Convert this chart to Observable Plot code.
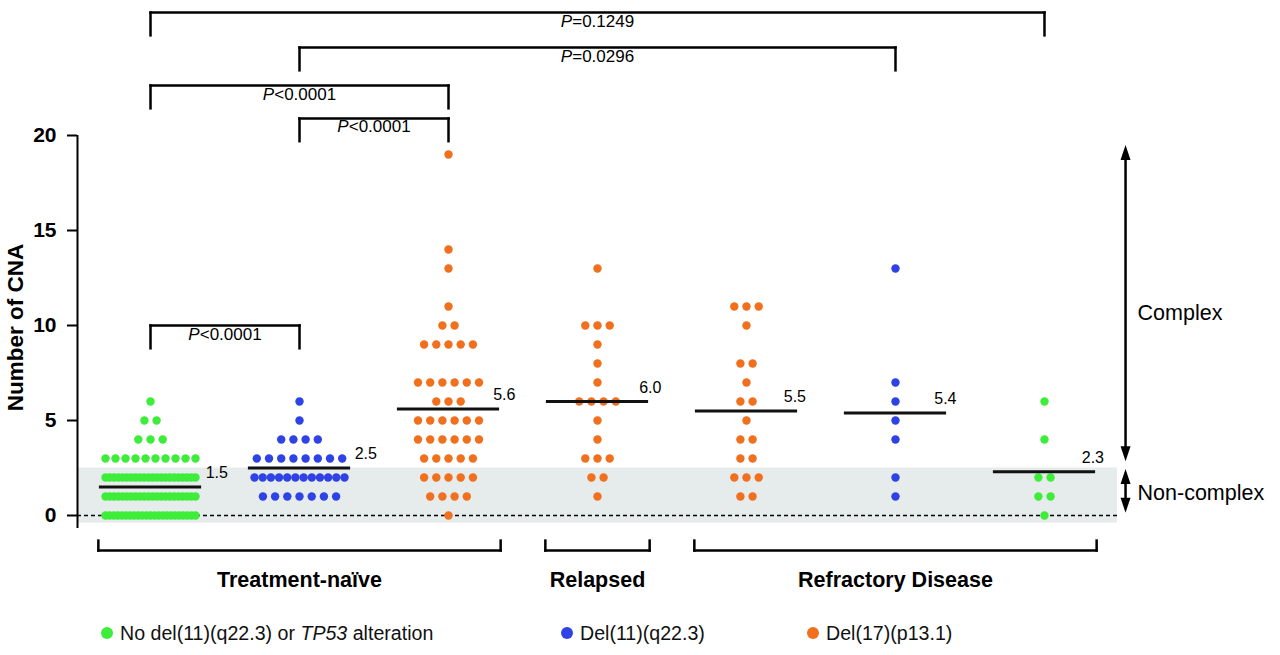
<!DOCTYPE html>
<html><head><meta charset="utf-8">
<script src="https://cdn.jsdelivr.net/npm/d3@7"></script>
<script src="https://cdn.jsdelivr.net/npm/@observablehq/plot@0.6"></script>
<style>
body{margin:0;background:#fff;font-family:"Liberation Sans",Arial,sans-serif;}
#wrap{position:relative;width:1280px;height:655px;overflow:hidden;background:#fff}
#legend{position:absolute;top:619px;left:0;width:1280px;height:28px;font-size:19.6px;color:#111}
.item{position:absolute;top:0;height:28px;display:flex;align-items:center;white-space:nowrap}
.sw{width:12px;height:12px;border-radius:50%;display:inline-block;margin-right:7px}
</style></head><body>
<div id="wrap"><div id="chart"></div><div id="legend"></div></div>
<script>
// ---------- DATA ----------
const statusLabels = ["No del(11)(q22.3) or TP53 alteration", "Del(11)(q22.3)", "Del(17)(p13.1)"];
const statusColors = ["#3ded3a", "#2f42e6", "#f0701e"];
const phases = ["Treatment-naïve", "Relapsed", "Refractory Disease"];
// per group: phase index, status index
const groupPhase = [0, 0, 0, 1, 2, 2, 2];
const groupStatus = [0, 1, 2, 2, 2, 1, 0];
// CNA values and number of patients per value, one pair per group
const naiveNoneCNA = [0, 1, 2, 3, 4, 5, 6];
const naiveNoneN   = [23, 22, 22, 10, 3, 2, 1];
const naiveDel11CNA = [1, 2, 3, 4, 5, 6];
const naiveDel11N   = [7, 12, 8, 4, 1, 1];
const naiveDel17CNA = [0, 1, 2, 3, 4, 5, 6, 7, 9, 10, 11, 13, 14, 19];
const naiveDel17N   = [1, 4, 5, 5, 6, 6, 3, 6, 5, 2, 1, 1, 1, 1];
const relapsedDel17CNA = [1, 2, 3, 4, 5, 6, 7, 8, 9, 10, 13];
const relapsedDel17N   = [1, 2, 3, 1, 1, 4, 1, 1, 1, 3, 1];
const refrDel17CNA = [1, 2, 3, 4, 5, 6, 7, 8, 10, 11];
const refrDel17N   = [2, 3, 2, 2, 1, 2, 1, 2, 1, 3];
const refrDel11CNA = [1, 2, 4, 5, 6, 7, 13];
const refrDel11N   = [1, 1, 1, 1, 1, 1, 1];
const refrNoneCNA = [0, 1, 2, 4, 6];
const refrNoneN   = [1, 2, 2, 1, 1];
const groupMeans = [1.5, 2.5, 5.6, 6.0, 5.5, 5.4, 2.3];
const yTicks = [0, 5, 10, 15, 20];
const complexThreshold = 2.5;
const comparisons = [
  {from: 0, to: 6, label: "P=0.1249"},
  {from: 1, to: 5, label: "P=0.0296"},
  {from: 0, to: 2, label: "P<0.0001"},
  {from: 1, to: 2, label: "P<0.0001"},
  {from: 0, to: 1, label: "P<0.0001"}
];
const zoneLabels = ["Complex", "Non-complex"];

// ---------- LAYOUT ----------
const groupsCNA = [naiveNoneCNA, naiveDel11CNA, naiveDel17CNA, relapsedDel17CNA, refrDel17CNA, refrDel11CNA, refrNoneCNA];
const groupsN = [naiveNoneN, naiveDel11N, naiveDel17N, relapsedDel17N, refrDel17N, refrDel11N, refrNoneN];
const W = 1280, H = 612, ML = 77;
const xDomain = [-0.49, 7.584];
const yDomain = [-5.105, 27.105];
const pxPerX = (W - ML) / (xDomain[1] - xDomain[0]);
const axisX = xDomain[0];
const bandRight = 6.49;
const dotStep = 12.2, maxSpan = 90;
const bracketLevels = [26.47, 24.63, 22.63, 20.9, 10.0];
const legLen = 1.2;
const meanLabelOffset = [0.37, 0.37, 0.3, 0.28, 0.25, 0.26, 0.25];

const points = [];
groupsCNA.forEach((vals, g) => {
  vals.forEach((v, i) => {
    const n = groupsN[g][i];
    const step = n > 1 ? Math.min(dotStep, maxSpan / (n - 1)) : 0;
    for (let k = 0; k < n; k++) {
      points.push({g, v, x: g + ((k - (n - 1) / 2) * step) / pxPerX, status: groupStatus[g]});
    }
  });
});
const meanData = groupMeans.map((m, g) => ({g, m}));

const segs = [];
const pLabels = [];
comparisons.forEach((c, i) => {
  const L = bracketLevels[i];
  segs.push({x1: c.from, x2: c.to, y1: L, y2: L});
  segs.push({x1: c.from, x2: c.from, y1: L, y2: L - legLen});
  segs.push({x1: c.to, x2: c.to, y1: L, y2: L - legLen});
  pLabels.push({x: (c.from + c.to) / 2, y: L, text: c.label});
});
const catY = -1.84, catLeg = 0.52, catLabelY = -3.42;
const catSegs = [], catLabels = [];
phases.forEach((p, pi) => {
  const gs = groupPhase.map((ph, g) => ph === pi ? g : null).filter(g => g !== null);
  const a = d3.min(gs) - 0.35, b = d3.max(gs) + 0.35;
  catSegs.push({x1: a, x2: b, y1: catY, y2: catY});
  catSegs.push({x1: a, x2: a, y1: catY, y2: catY + catLeg});
  catSegs.push({x1: b, x2: b, y1: catY, y2: catY + catLeg});
  catLabels.push({x: (a + b) / 2, y: catLabelY, text: p});
});
const arrowX = 6.544;
const arrows = [{lo: 2.85, hi: 19.5}, {lo: 0.15, hi: 2.45}];
const heads = arrows.flatMap(a => [{y: a.hi, rot: 0}, {y: a.lo, rot: 180}]);
const zoneText = [{y: 10.63, text: zoneLabels[0]}, {y: 1.2, text: zoneLabels[1]}];
const headSymbol = {draw(ctx) { ctx.moveTo(0, 0); ctx.lineTo(-5, 15); ctx.lineTo(5, 15); ctx.closePath(); }};

const font = "Liberation Sans, Arial, sans-serif";
const chart = Plot.plot({
  width: W, height: H,
  marginLeft: ML, marginRight: 0, marginTop: 0, marginBottom: 0,
  x: {domain: xDomain, axis: null},
  y: {domain: yDomain, axis: null},
  style: {fontFamily: font, background: "#fff", color: "#000", overflow: "visible"},
  marks: [
    Plot.rect([0], {x1: () => axisX, x2: () => bandRight, y1: () => -0.4, y2: () => complexThreshold, fill: "#e6ebeb"}),
    Plot.ruleY([0], {x1: () => axisX, x2: () => bandRight, y: d => d, stroke: "#000", strokeWidth: 1.5, strokeDasharray: "4,3"}),
    Plot.ruleX([axisX], {x: d => d, y1: () => -0.68, y2: () => 20, stroke: "#000", strokeWidth: 2}),
    Plot.axisY(yTicks, {anchor: "left", tickSize: 10, tickPadding: 11, fontSize: 21, fontWeight: "bold", strokeWidth: 2, label: null, tickFormat: d => String(d)}),
    Plot.text(["Number of CNA"], {frameAnchor: "left", y: () => 9.9, dx: -62, rotate: -90, text: d => d, fontSize: 22.5, fontWeight: "bold", textAnchor: "middle"}),
    Plot.dot(points, {x: "x", y: "v", r: 4.2, fill: d => statusColors[d.status], stroke: "none"}),
    Plot.ruleY(meanData, {x1: d => d.g - 0.343, x2: d => d.g + 0.343, y: "m", stroke: "#111", strokeWidth: 3}),
    Plot.text(meanData, {x: d => d.g + meanLabelOffset[d.g], y: "m", text: d => d.m.toFixed(1), dy: -14, textAnchor: "start", fontSize: 16}),
    Plot.link(segs, {x1: "x1", x2: "x2", y1: "y1", y2: "y2", stroke: "#000", strokeWidth: 2.5, strokeLinecap: "square"}),
    Plot.text(pLabels, {x: "x", y: "y", text: "text", lineAnchor: "top", dy: 2, fontSize: 17}),
    Plot.link(catSegs, {x1: "x1", x2: "x2", y1: "y1", y2: "y2", stroke: "#000", strokeWidth: 2.5, strokeLinecap: "square"}),
    Plot.text(catLabels, {x: "x", y: "y", text: "text", fontSize: 21.5, fontWeight: "bold", lineAnchor: "middle"}),
    Plot.link(arrows, {x1: () => arrowX, x2: () => arrowX, y1: d => d.lo + 0.4, y2: d => d.hi - 0.4, stroke: "#000", strokeWidth: 2.5}),
    Plot.dot(heads, {x: () => arrowX, y: "y", symbol: headSymbol, rotate: "rot", r: 5, fill: "#000", stroke: "none"}),
    Plot.text(zoneText, {x: () => arrowX, y: "y", text: "text", dx: 12, textAnchor: "start", fontSize: 21.5, lineAnchor: "middle"})
  ]
});
d3.select(chart).selectAll("text").each(function () {
  const t = this.textContent;
  if (/^P[=<]/.test(t) && this.childElementCount === 0) {
    const el = d3.select(this);
    el.text(null);
    el.append("tspan").attr("font-style", "italic").text("P");
    el.append("tspan").text(t.slice(1));
  }
});
document.getElementById("chart").appendChild(chart);

// legend
const legendPos = [101, 561, 807];
const leg = d3.select("#legend");
statusLabels.forEach((s, i) => {
  const it = leg.append("div").attr("class", "item").style("left", legendPos[i] + "px");
  it.append("span").attr("class", "sw").style("background", statusColors[i]);
  const sp = it.append("span");
  if (s.includes("TP53")) {
    const parts = s.split("TP53");
    sp.append("span").text(parts[0]);
    sp.append("i").text("TP53");
    sp.append("span").text(parts[1]);
  } else sp.text(s);
});
</script>
</body></html>
